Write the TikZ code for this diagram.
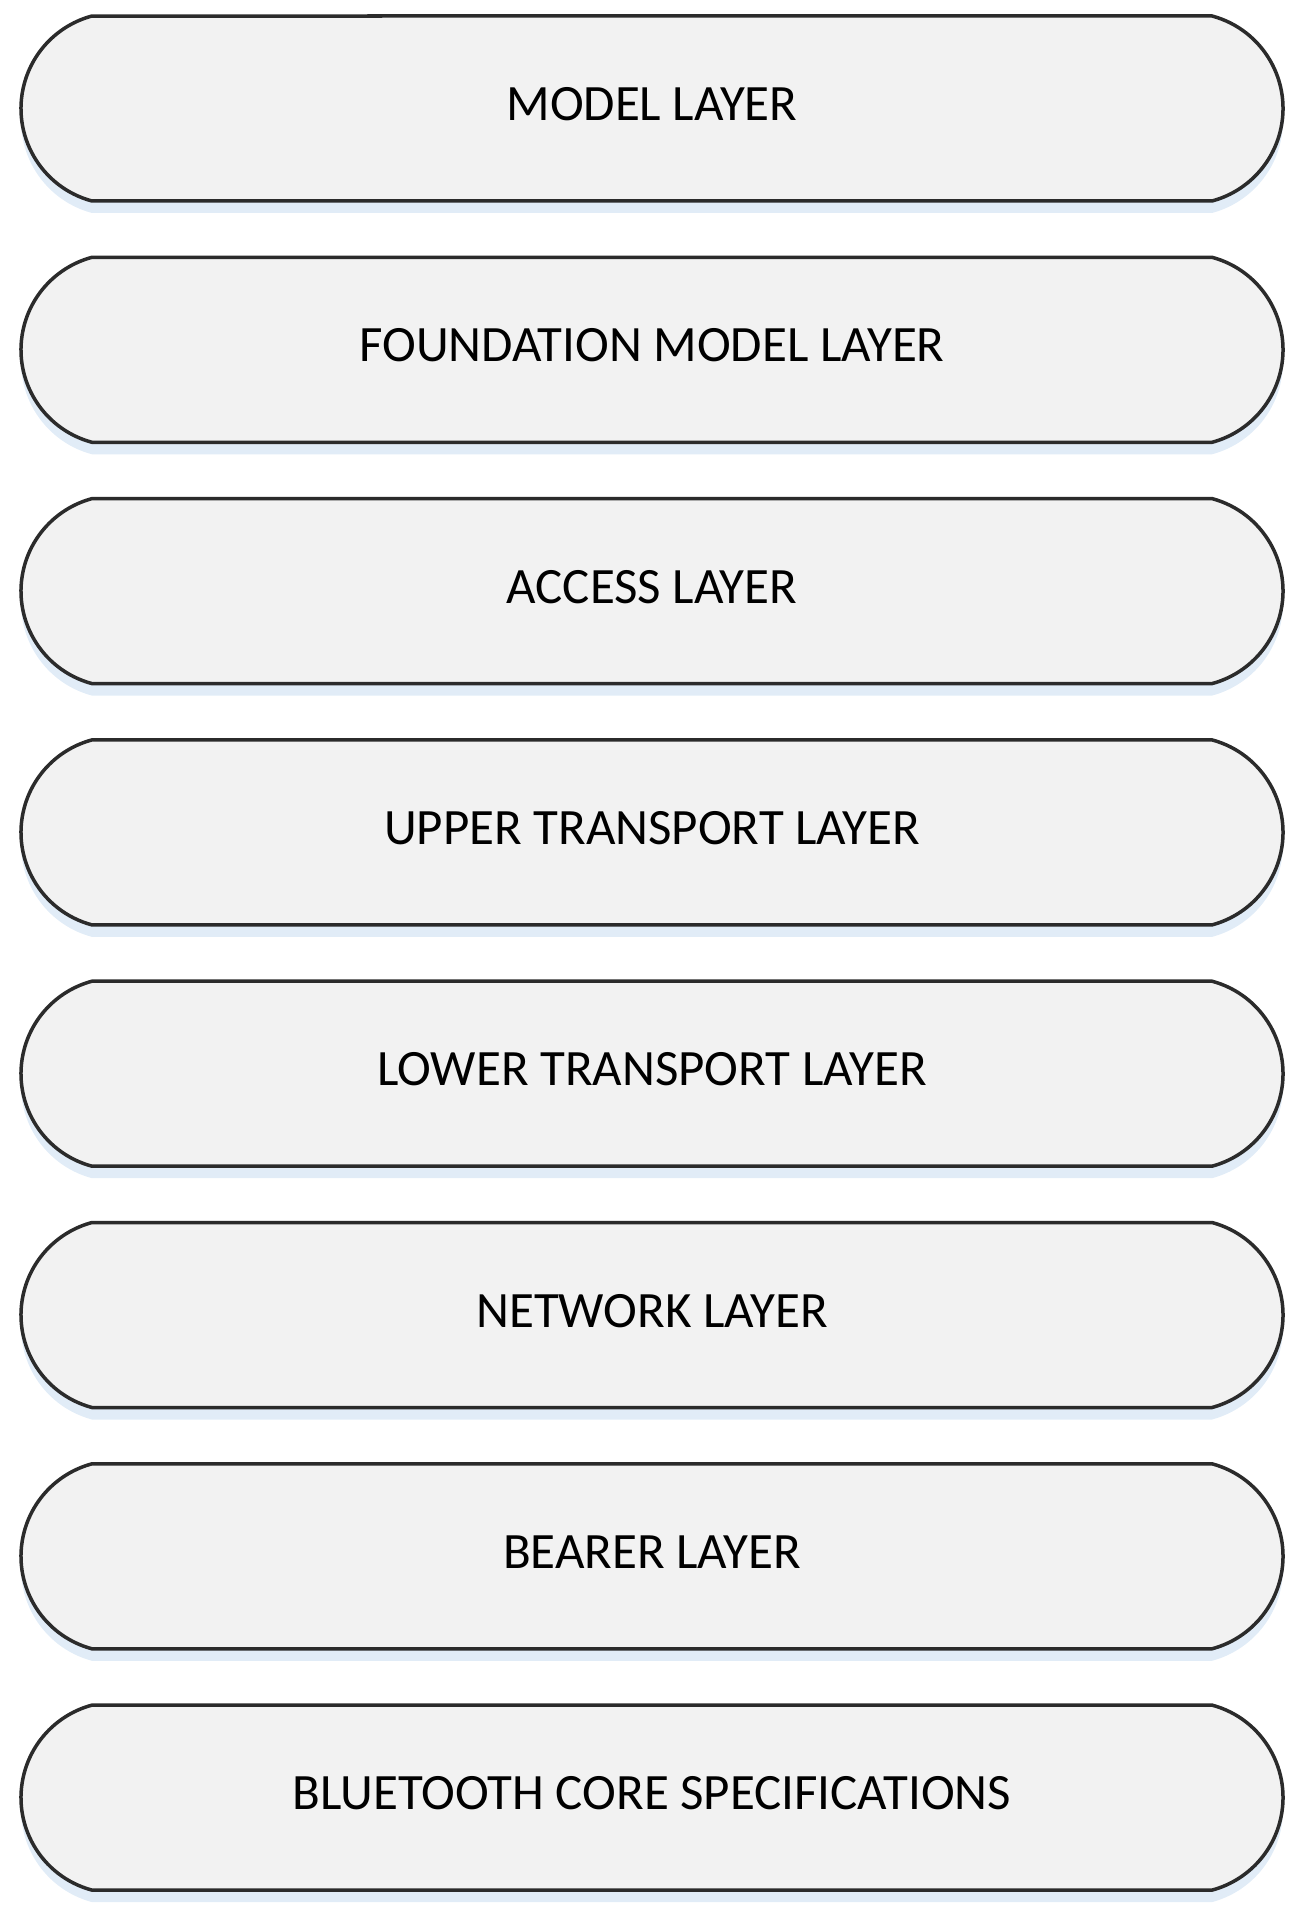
\documentclass[tikz,border=0pt]{standalone}
\usepackage{fontspec}
\setmainfont{Carlito}
\usepackage{xcolor}
\usepackage{tikz}
\usetikzlibrary{shapes.misc}
\usetikzlibrary{shadows}
\usetikzlibrary{positioning}

\definecolor{layerfill}{HTML}{F2F2F2}
\definecolor{layerline}{HTML}{2B2B2B}
\definecolor{layershade}{HTML}{E1ECF7}

\begin{document}
\begin{tikzpicture}[layerbox/.style={rounded rectangle, rounded rectangle arc length=150, draw=layerline, line width=0.035cm, fill=layerfill, minimum width=12.62cm, minimum height=1.85cm, inner sep=0pt, font=\fontsize{14.5}{17}\selectfont, text=black, drop shadow={fill=layershade, opacity=1, shadow xshift=0cm, shadow yshift=-0.12cm}}]
			\useasboundingbox (0,0) rectangle (13.05,-19.2);

			\foreach \lbl[count=\iLayer, evaluate=\iLayer as \yy using {-1.085 - 2.413*(\iLayer - 1)}] in {MODEL LAYER, FOUNDATION MODEL LAYER, ACCESS LAYER, UPPER TRANSPORT LAYER, LOWER TRANSPORT LAYER, NETWORK LAYER, BEARER LAYER, BLUETOOTH CORE SPECIFICATIONS}
			{
				\node[layerbox](layer\iLayer) at (6.52,\yy){\raisebox{0.09cm}{\lbl}};
			}
		\end{tikzpicture}
\end{document}
